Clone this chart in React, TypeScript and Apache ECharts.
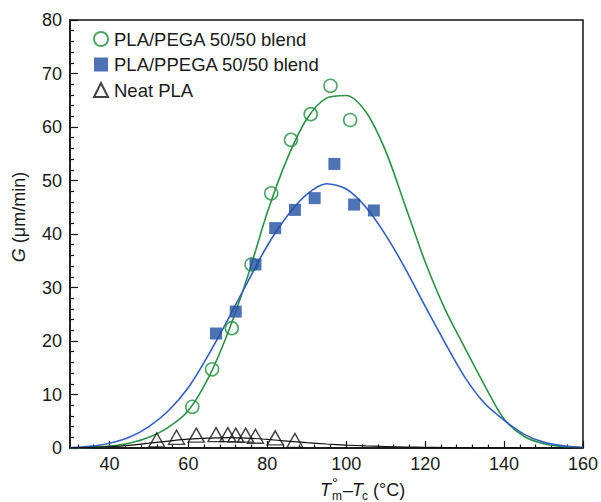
import React, { useEffect, useRef } from "react";
import * as echarts from "echarts";

// ---- data ----
const curveX = [30, 35, 40, 45, 50, 55, 60, 65, 70, 75, 80, 85, 90, 95, 100, 105, 110, 115, 120, 125, 130, 135, 140, 145, 150, 155, 160];
const pegaCurve = [0.03, 0.1, 0.35, 0.9, 2.0, 3.9, 7.0, 13.0, 21.5, 32, 44, 54, 61.5, 65.4, 65.9, 62.8, 55.5, 45.2, 34.8, 26, 18.8, 11.8, 5.4, 2.2, 0.8, 0.25, 0.05];
const ppegaCurve = [0.05, 0.3, 0.9, 2.0, 4.0, 7.0, 11.3, 17.3, 24.0, 31.0, 37.8, 43.3, 47.4, 49.4, 48.4, 45.0, 39.8, 33.5, 26.5, 19.7, 13.3, 8.4, 5.2, 2.6, 1.1, 0.4, 0.1];
const plaCurve = [0.02, 0.1, 0.25, 0.5, 0.9, 1.3, 1.65, 1.85, 1.95, 1.85, 1.6, 1.3, 1.0, 0.75, 0.55, 0.4, 0.28, 0.18, 0.12, 0.08, 0.05, 0.03, 0.02, 0.01, 0.01, 0, 0];

const pegaX = [61, 66, 71, 76, 81, 86, 91, 96, 101];
const pegaY = [7.7, 14.7, 22.4, 34.3, 47.6, 57.6, 62.4, 67.7, 61.3];
const ppegaX = [67, 72, 77, 82, 87, 92, 97, 102, 107];
const ppegaY = [21.4, 25.5, 34.3, 41.1, 44.5, 46.7, 53.1, 45.5, 44.4];
const plaX = [52, 57, 62, 67, 70, 72, 74.5, 77, 82, 87];
const plaY = [1.5, 2.0, 2.4, 2.5, 2.5, 2.4, 2.4, 2.2, 1.9, 1.4];

const xMajorTicks = [40, 60, 80, 100, 120, 140, 160];
const xMinorTicks = [32, 36, 44, 48, 52, 56, 64, 68, 72, 76, 84, 88, 92, 96, 104, 108, 112, 116, 124, 128, 132, 136, 144, 148, 152, 156];

const seriesNames = ["PLA/PEGA 50/50 blend", "PLA/PPEGA 50/50 blend", "Neat PLA"];

const GREEN = "#23913f";
const GREEN_LINE = "#2a9444";
const BLUE = "#2150a3";
const BLUE_LINE = "#335fc4";
const FONT = "Liberation Sans, Arial, sans-serif";
const TXT = "#1a1a1a";

const zip = (a: number[], b: number[]) => a.map((v, i) => [v, b[i]]);

export default function App() {
  const ref = useRef<HTMLDivElement>(null);
  useEffect(() => {
    if (!ref.current) return;
    const chart = echarts.init(ref.current, null, { renderer: "svg" });
    const axisLine = { show: true, lineStyle: { color: "#111", width: 1.5 } };
    const txt = (x: number, y: number, text: string, size: number, italic = false) => ({
      type: "text",
      x,
      y,
      style: { text, fontSize: size, fontFamily: FONT, fontStyle: italic ? "italic" : "normal", fill: TXT, align: "left", verticalAlign: "middle" },
    });
    chart.setOption({
      animation: false,
      backgroundColor: "#fff",
      grid: { left: 70, right: 14, top: 20, bottom: 54, show: true, borderColor: "#111", borderWidth: 1.5, backgroundColor: "transparent" },
      legend: {
        data: seriesNames,
        orient: "vertical",
        left: 88,
        top: 24,
        itemWidth: 14,
        itemHeight: 14,
        itemGap: 5.5,
        textStyle: { fontSize: 18.5, fontFamily: FONT, color: TXT, lineHeight: 20, padding: [0, 0, 0, 1] },
      },
      xAxis: [
        {
          type: "value",
          min: 30,
          max: 160,
          axisLine,
          splitLine: { show: false },
          axisTick: { show: true, inside: true, length: 7, customValues: xMajorTicks, lineStyle: { color: "#111", width: 1.2 } },
          axisLabel: { customValues: xMajorTicks, fontSize: 18, fontFamily: FONT, color: TXT, margin: 7 },
        },
        {
          type: "value",
          min: 30,
          max: 160,
          position: "bottom",
          axisLine: { show: false },
          splitLine: { show: false },
          axisTick: { show: true, inside: true, length: 3.5, customValues: xMinorTicks, lineStyle: { color: "#111", width: 1.2 } },
          axisLabel: { show: false },
        },
      ],
      yAxis: {
        type: "value",
        min: 0,
        max: 80,
        interval: 10,
        axisLine,
        splitLine: { show: false },
        axisTick: { show: true, inside: true, length: 8, lineStyle: { color: "#111", width: 1.2 } },
        minorTick: { show: true, splitNumber: 5, length: 4, lineStyle: { color: "#111", width: 1.2 } },
        minorSplitLine: { show: false },
        axisLabel: { fontSize: 18, fontFamily: FONT, color: TXT, margin: 8 },
      },
      graphic: [
        {
          type: "text",
          x: 19,
          y: 217,
          rotation: Math.PI / 2,
          style: {
            text: "{i|G}{n| (μm/min)}",
            fontSize: 18,
            fontFamily: FONT,
            fill: TXT,
            align: "center",
            verticalAlign: "middle",
            rich: {
              i: { fontStyle: "italic", fontSize: 18, fontFamily: FONT, fill: TXT },
              n: { fontSize: 18, fontFamily: FONT, fill: TXT },
            },
          },
        },
        txt(320, 490, "T", 18, true),
        txt(332, 482, "°", 15),
        txt(332, 496, "m", 12),
        txt(343, 490, "–", 18),
        txt(352, 490, "T", 18, true),
        txt(362, 496, "c", 12),
        txt(368, 490, " (°C)", 18),
      ],
      series: [
        {
          name: "PLA/PEGA curve",
          type: "line",
          smooth: 0.3,
          showSymbol: false,
          data: zip(curveX, pegaCurve),
          lineStyle: { color: GREEN_LINE, width: 1.6 },
          itemStyle: { color: GREEN_LINE },
          z: 2,
        },
        {
          name: "PLA/PPEGA curve",
          type: "line",
          smooth: 0.3,
          showSymbol: false,
          data: zip(curveX, ppegaCurve),
          lineStyle: { color: BLUE_LINE, width: 1.6 },
          itemStyle: { color: BLUE_LINE },
          z: 2,
        },
        {
          name: "Neat PLA curve",
          type: "line",
          smooth: 0.3,
          showSymbol: false,
          data: zip(curveX, plaCurve),
          lineStyle: { color: "#111", width: 1.2 },
          itemStyle: { color: "#111" },
          z: 2,
        },
        {
          name: seriesNames[0],
          type: "scatter",
          symbol: "circle",
          symbolSize: 13,
          data: zip(pegaX, pegaY),
          itemStyle: { color: "rgba(255,255,255,0)", borderColor: GREEN, borderWidth: 1.6 },
          z: 3,
        },
        {
          name: seriesNames[1],
          type: "scatter",
          symbol: "rect",
          symbolSize: 12,
          data: zip(ppegaX, ppegaY),
          itemStyle: { color: BLUE },
          z: 3,
        },
        {
          name: seriesNames[2],
          type: "scatter",
          symbol: "triangle",
          symbolSize: [16, 14],
          data: zip(plaX, plaY),
          itemStyle: { color: "rgba(255,255,255,0)", borderColor: "#111", borderWidth: 1.4 },
          z: 3,
        },
      ],
    });
    return () => chart.dispose();
  }, []);
  return <div ref={ref} style={{ position: "fixed", left: 0, top: 0, width: 601, height: 502 }} />;
}
